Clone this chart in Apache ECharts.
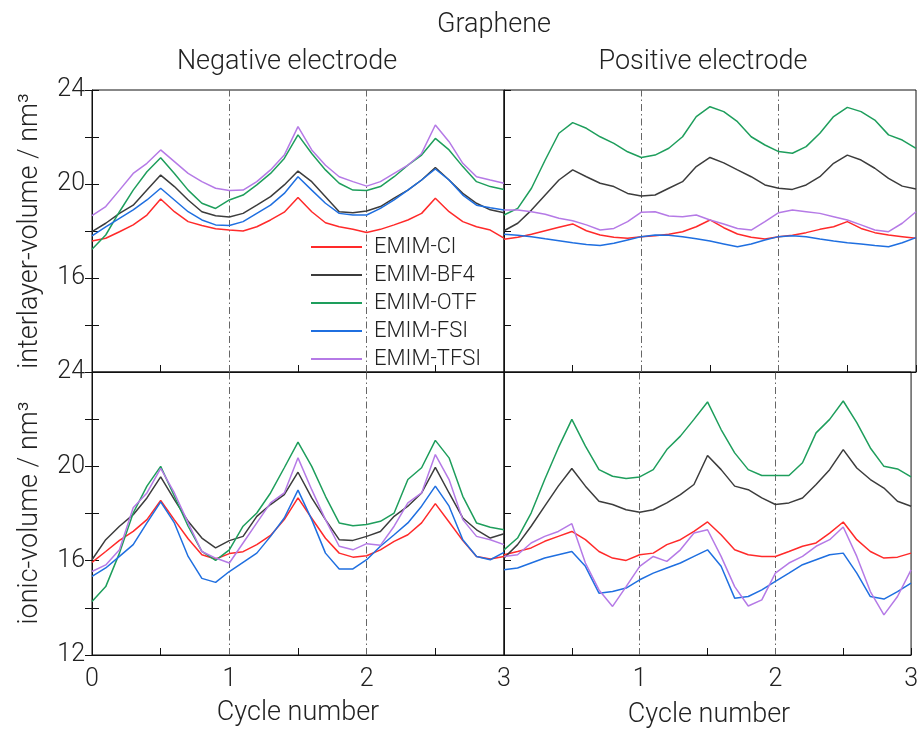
<!DOCTYPE html>
<html>
<head>
<meta charset="utf-8">
<script src="https://cdn.jsdelivr.net/npm/echarts@6/dist/echarts.min.js"></script>
<style>
html,body{margin:0;padding:0;background:#fff;}
#chart{width:921px;height:731px;}
</style>
</head>
<body>
<div id="chart"></div>
<script>
// ---------- DATA ----------
const cycles = [0,0.1,0.2,0.3,0.4,0.5,0.6,0.7,0.8,0.9,1.0,1.1,1.2,1.3,1.4,1.5,1.6,1.7,1.8,1.9,2.0,2.1,2.2,2.3,2.4,2.5,2.6,2.7,2.8,2.9,3.0];
const seriesNames = ['EMIM-Cl','EMIM-BF4','EMIM-OTF','EMIM-FSI','EMIM-TFSI'];
const xTicks = [0,1,2,3];
const yTicks = [12,16,20,24];
const panelTitles = ['Negative electrode','Positive electrode'];
const mainTitle = 'Graphene';
const xTitle = 'Cycle number';
const yTitleTop = 'interlayer-volume / nm³';
const yTitleBottom = 'ionic-volume / nm³';

// interlayer volume, negative electrode
const negInterCl   = [17.57,17.69,17.97,18.26,18.68,19.36,18.82,18.4,18.23,18.1,18.04,18.0,18.18,18.47,18.8,19.43,18.82,18.35,18.18,18.07,17.94,18.07,18.26,18.47,18.75,19.39,18.82,18.4,18.18,18.04,17.7];
const negInterBF4  = [17.97,18.33,18.75,19.1,19.74,20.38,19.89,19.32,18.82,18.65,18.6,18.75,19.1,19.46,19.96,20.55,20.1,19.46,18.82,18.78,18.85,19.04,19.4,19.74,20.17,20.7,20.17,19.6,19.18,18.9,18.78];
const negInterOTF  = [17.22,17.83,18.82,19.74,20.52,21.12,20.45,19.74,19.18,18.96,19.32,19.53,19.96,20.45,21.09,22.09,21.3,20.6,20.03,19.74,19.72,19.89,20.31,20.8,21.23,21.94,21.45,20.74,20.1,19.89,19.77];
const negInterFSI  = [17.79,18.18,18.54,18.9,19.32,19.82,19.32,18.82,18.47,18.26,18.23,18.4,18.75,19.1,19.6,20.31,19.74,19.18,18.75,18.68,18.68,18.96,19.32,19.74,20.17,20.64,20.17,19.53,19.1,18.99,18.89];
const negInterTFSI = [18.65,19.04,19.74,20.45,20.88,21.45,20.95,20.45,20.1,19.82,19.72,19.74,20.1,20.6,21.23,22.44,21.45,20.8,20.31,20.1,19.91,20.1,20.45,20.8,21.3,22.51,21.8,20.88,20.31,20.17,20.03];

// interlayer volume, positive electrode
const posInterCl   = [17.65,17.73,17.86,18.01,18.16,18.3,18.01,17.83,17.73,17.69,17.76,17.8,17.86,17.97,18.18,18.47,18.14,17.87,17.73,17.66,17.76,17.82,17.93,18.07,18.18,18.4,18.11,17.93,17.83,17.76,17.69];
const posInterBF4  = [18.01,18.33,18.89,19.53,20.17,20.6,20.31,20.03,19.89,19.6,19.49,19.53,19.82,20.1,20.74,21.13,20.9,20.6,20.31,19.96,19.82,19.77,19.96,20.31,20.88,21.23,21.02,20.67,20.24,19.91,19.79];
const posInterOTF  = [18.68,18.96,19.82,21.02,22.16,22.61,22.37,22.01,21.73,21.37,21.13,21.23,21.52,22.01,22.87,23.29,23.08,22.65,22.01,21.66,21.38,21.31,21.59,22.16,22.87,23.26,23.08,22.72,22.09,21.87,21.52];
const posInterFSI  = [17.86,17.82,17.76,17.67,17.59,17.5,17.43,17.38,17.48,17.62,17.76,17.83,17.82,17.76,17.67,17.57,17.45,17.33,17.45,17.62,17.76,17.8,17.76,17.66,17.57,17.5,17.45,17.38,17.33,17.5,17.72];
const posInterTFSI = [18.89,18.89,18.82,18.71,18.54,18.44,18.26,18.04,18.11,18.4,18.8,18.82,18.64,18.61,18.68,18.47,18.3,18.11,18.04,18.4,18.78,18.89,18.82,18.75,18.61,18.47,18.26,18.04,17.97,18.33,18.82];

// ionic volume, negative electrode
const negIonCl   = [15.93,16.39,16.86,17.24,17.74,18.55,17.73,16.93,16.25,16.07,16.3,16.38,16.68,17.07,17.74,18.66,17.8,16.95,16.32,16.15,16.21,16.46,16.82,17.1,17.6,18.42,17.64,16.85,16.18,16.07,16.18];
const negIonBF4  = [16.04,16.89,17.46,17.95,18.66,19.55,18.59,17.67,16.96,16.54,16.85,17.03,17.88,18.38,18.8,19.75,18.66,17.74,16.89,16.86,17.03,17.24,17.88,18.31,18.87,19.96,18.87,17.81,17.31,16.96,17.14];
const negIonOTF  = [14.27,14.9,16.32,18.02,19.16,20.0,18.73,17.46,16.39,16.01,16.46,17.46,18.02,18.87,19.94,21.03,20.0,18.73,17.6,17.48,17.53,17.67,18.02,19.44,19.94,21.1,20.36,18.73,17.6,17.42,17.31];
const negIonTFSI = [15.54,15.82,16.46,18.24,18.87,19.91,18.87,17.6,16.39,16.11,15.9,16.75,17.6,18.45,18.87,20.36,19.01,17.74,16.61,16.46,16.72,16.65,17.46,18.45,18.87,20.5,19.44,17.74,17.03,16.89,16.68];
const negIonFSI  = [15.33,15.69,16.18,16.68,17.6,18.49,17.6,16.18,15.25,15.08,15.54,15.93,16.32,17.03,17.81,18.99,17.74,16.32,15.65,15.65,16.04,16.61,17.1,17.6,18.31,19.16,18.31,16.89,16.18,16.04,16.35];

// ionic volume, positive electrode
const posIonCl   = [16.25,16.39,16.54,16.82,17.03,17.24,16.89,16.39,16.11,16.01,16.25,16.32,16.68,16.89,17.24,17.64,17.1,16.46,16.25,16.18,16.18,16.39,16.61,16.75,17.17,17.64,16.89,16.39,16.11,16.15,16.32];
const posIonBF4  = [16.11,16.68,17.46,18.31,19.16,19.91,19.16,18.52,18.38,18.16,18.05,18.16,18.45,18.8,19.23,20.46,19.86,19.16,19.01,18.66,18.38,18.45,18.66,19.23,19.86,20.71,19.93,19.44,19.08,18.52,18.31];
const posIonOTF  = [16.46,16.96,18.02,19.44,20.78,21.99,20.86,19.86,19.58,19.48,19.55,19.86,20.71,21.28,21.99,22.73,21.56,20.57,19.86,19.61,19.61,19.61,20.15,21.42,21.99,22.77,21.85,20.78,20.0,19.89,19.55];
const posIonFSI  = [15.61,15.69,15.9,16.11,16.25,16.39,15.76,14.62,14.69,14.84,15.19,15.47,15.69,15.9,16.18,16.46,15.76,14.41,14.48,14.76,15.12,15.47,15.83,16.04,16.25,16.32,15.47,14.48,14.37,14.69,15.05];
const posIonTFSI = [16.18,16.25,16.75,17.03,17.24,17.57,15.9,14.76,14.06,14.9,15.76,16.18,15.97,16.46,17.17,17.31,16.18,14.9,14.08,14.34,15.47,15.9,16.18,16.61,16.89,17.43,16.18,14.69,13.7,14.48,15.61];

const colors = ['#ff2a2a','#3c3c3c','#1e9e5c','#1f6fe0','#b57ae6'];

// ---------- CHART ----------
const FONT = 'Roboto, "Liberation Sans", sans-serif';
const TXT = '#222';
const panels = [
  {grid:0, data:[negInterCl,negInterBF4,negInterOTF,negInterFSI,negInterTFSI]},
  {grid:1, data:[posInterCl,posInterBF4,posInterOTF,posInterFSI,posInterTFSI]},
  {grid:2, data:[negIonCl,negIonBF4,negIonOTF,negIonFSI,negIonTFSI]},
  {grid:3, data:[posIonCl,posIonBF4,posIonOTF,posIonFSI,posIonTFSI]}
];

const L = 92, M = 504, R = 916, T = 90, MID = 372, B = 655;
const grids = [
  {left:L, top:T, width:M-L, height:MID-T},
  {left:M, top:T, width:R-M, height:MID-T},
  {left:L, top:MID, width:M-L, height:B-MID},
  {left:M, top:MID, width:R-M, height:B-MID}
].map(g => Object.assign(g, {show:true, borderColor:'#111', borderWidth:1, backgroundColor:'transparent', containLabel:false}));

const tickStyle = {show:true, inside:true, length:7, lineStyle:{color:'#111', width:1}};
const minorStyle = {show:true, splitNumber:2, length:7, lineStyle:{color:'#111', width:1}};

const xAxes = [0,1,2,3].map(i => ({
  type:'value', gridIndex:i, min:xTicks[0], max:xTicks[xTicks.length-1], interval:1,
  axisLine:{show:true, onZero:false, lineStyle:{color:'#111'}},
  axisTick:tickStyle, minorTick:minorStyle,
  splitLine:{show:false},
  axisLabel:{show: i>=2, fontSize:25, fontFamily:FONT, fontWeight:300, color:TXT, margin:12,
    showMinLabel:true, showMaxLabel:true,
    formatter: v => (i===3 && v===0) ? '' : String(v)}
}));

const yAxes = [];
[0,1,2,3].forEach(i => {
  yAxes.push({
    type:'value', gridIndex:i, min:yTicks[0], max:yTicks[yTicks.length-1], interval:4, position:'left',
    axisLine:{show:true, onZero:false, lineStyle:{color:'#111'}},
    axisTick:tickStyle, minorTick:minorStyle, splitLine:{show:false},
    axisLabel:{show: i===0 || i===2, fontSize:25, fontFamily:FONT, fontWeight:300, color:TXT, margin:7,
      showMinLabel:true, showMaxLabel:true,
      formatter: v => (i===0 && v===12) ? '' : String(v)}
  });
});
// mirrored ticks on the right edge of the left panels
[0,2].forEach(i => {
  yAxes.push({
    type:'value', gridIndex:i, min:yTicks[0], max:yTicks[yTicks.length-1], interval:4, position:'right',
    axisLine:{show:false}, axisTick:tickStyle, minorTick:minorStyle, splitLine:{show:false},
    axisLabel:{show:false}
  });
});

const series = [];
panels.forEach(p => {
  p.data.forEach((arr, k) => {
    const s = {
      type:'line', name:seriesNames[k], xAxisIndex:p.grid, yAxisIndex:p.grid,
      data: cycles.map((c, j) => [c, arr[j]]),
      showSymbol:false, symbol:'none', smooth:false,
      lineStyle:{width:1.5, color:colors[k]}, itemStyle:{color:colors[k]},
      emphasis:{disabled:true}, z:3
    };
    if (k === 0) {
      s.markLine = {
        silent:true, symbol:['none','none'], label:{show:false},
        lineStyle:{color:'#666', width:1, type:[7,3,1.5,3]},
        data:[{xAxis:1},{xAxis:2}], z:1
      };
    }
    series.push(s);
  });
});

// one legend block per entry so that each row sits at a fixed place
const legends = seriesNames.map((name, i) => ({
  orient:'vertical', left:311, top:236 + i*28, padding:0, icon:'rect',
  itemWidth:51, itemHeight:2, data:[name], selectedMode:false,
  textStyle:{fontSize:22, fontFamily:FONT, fontWeight:300, color:TXT, lineHeight:20, padding:[0,0,0,7]}
}));

const tStyle = (txt) => ({text:txt, font:'300 27px '+FONT, fill:TXT, align:'center', verticalAlign:'middle'});
const graphic = [
  {type:'text', x:494, y:25, style:tStyle(mainTitle)},
  {type:'text', x:287, y:62, style:tStyle(panelTitles[0])},
  {type:'text', x:703, y:62, style:tStyle(panelTitles[1])},
  {type:'text', x:298, y:713, style:tStyle(xTitle)},
  {type:'text', x:709, y:715, style:tStyle(xTitle)},
  {type:'text', x:30, y:231, rotation:Math.PI/2, style:tStyle(yTitleTop)},
  {type:'text', x:30, y:513, rotation:Math.PI/2, style:tStyle(yTitleBottom)}
];

const chart = echarts.init(document.getElementById('chart'), null, {renderer:'canvas'});
chart.setOption({
  animation:false,
  backgroundColor:'#fff',
  grid:grids,
  xAxis:xAxes,
  yAxis:yAxes,
  legend:legends,
  graphic:graphic,
  series:series
});
</script>
</body>
</html>
